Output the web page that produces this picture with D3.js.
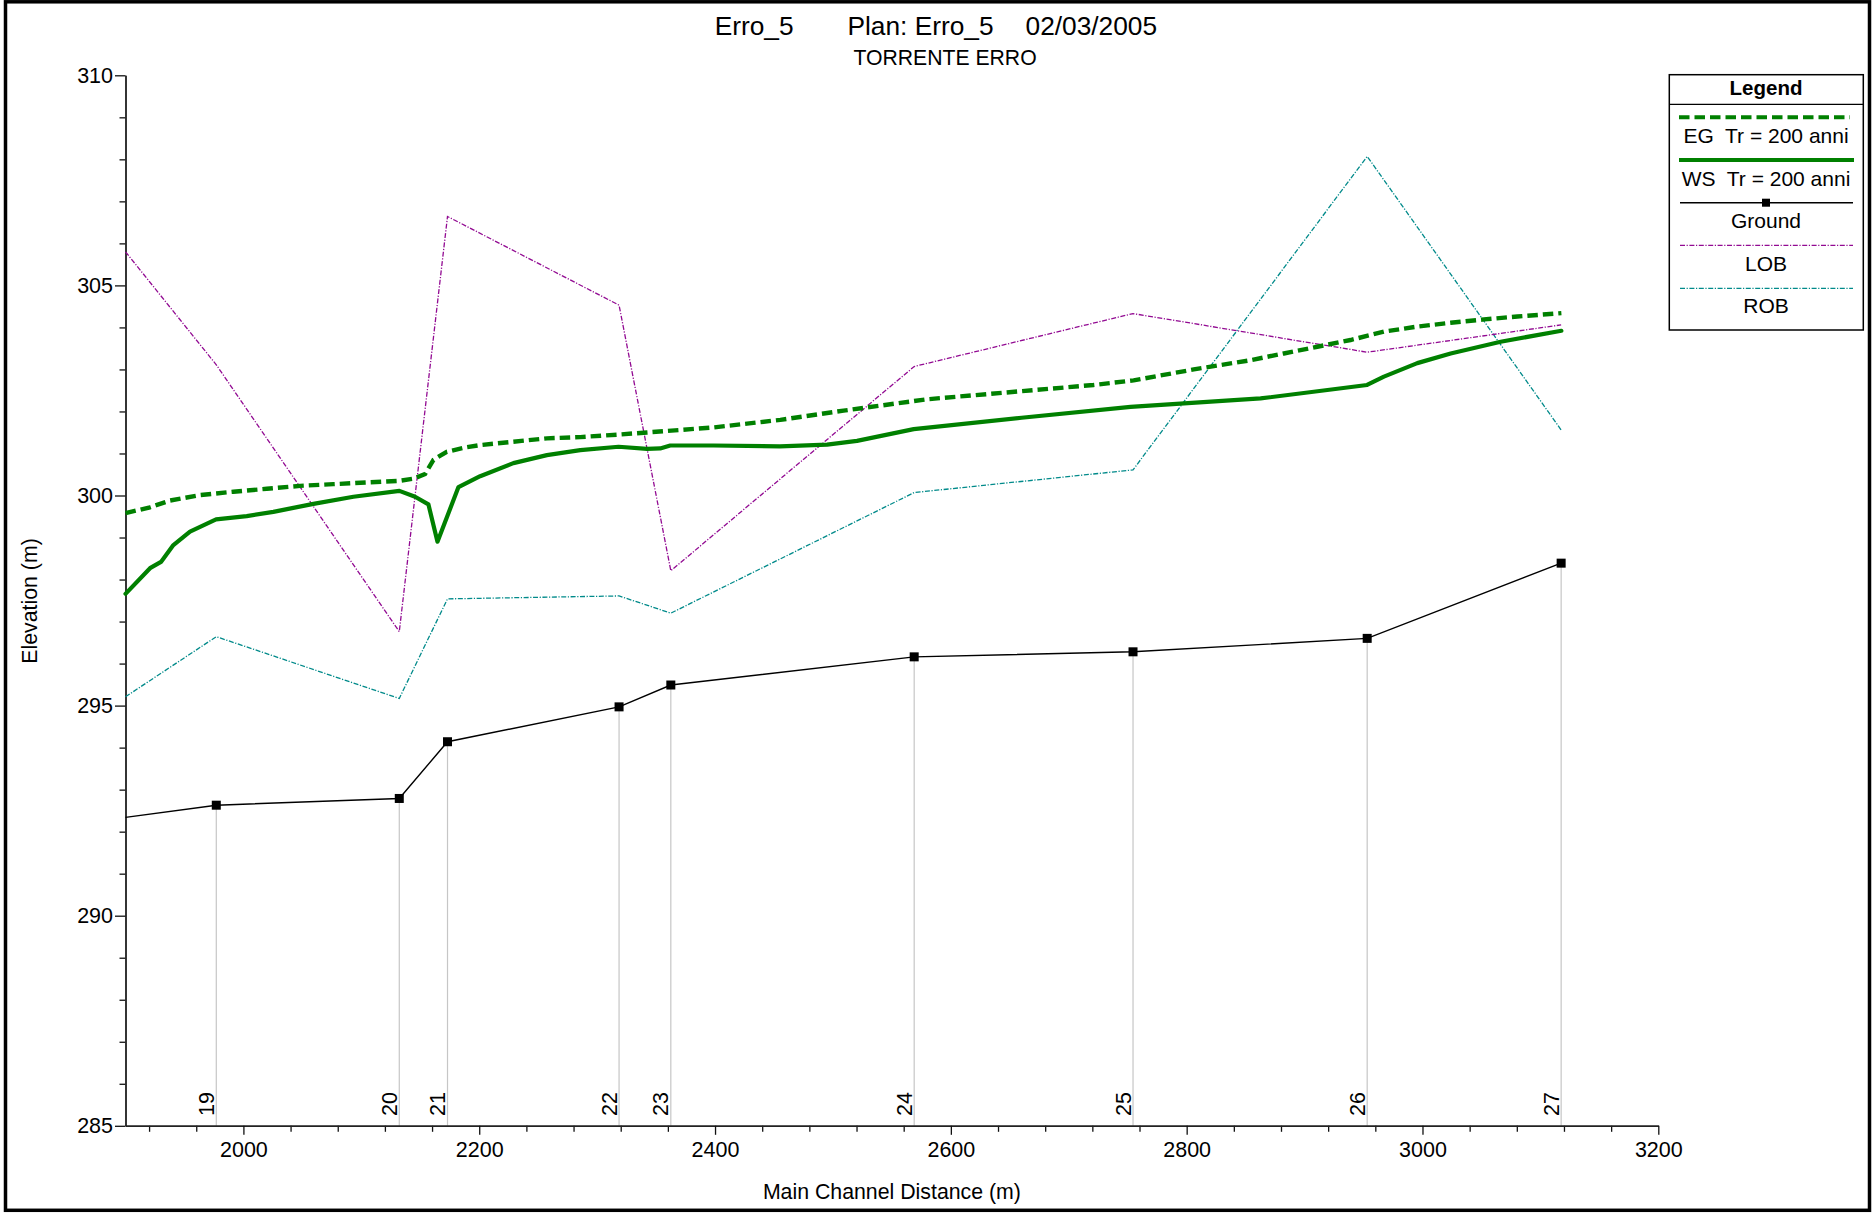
<!DOCTYPE html>
<html>
<head>
<meta charset="utf-8">
<script src="https://cdn.jsdelivr.net/npm/d3@7"></script>
<style>
  html, body { margin: 0; padding: 0; background: #fff; }
  svg { display: block; font-family: "Liberation Sans", Arial, sans-serif; }
  text { white-space: pre; }
</style>
</head>
<body>
<svg id="chart" width="1874" height="1213"></svg>
<script>
// River stations of the surveyed cross sections (m) and their labels
const sectionNames = ["19", "20", "21", "22", "23", "24", "25", "26", "27"];
const sectionStations = [1977.0, 2132.2, 2173.1, 2318.6, 2362.5, 2568.9, 2754.5, 2953.1, 3117.6];

// Channel bed, left and right overbank elevations (m); first value is at the left plot edge
const bankStations = [1900, 1977.0, 2132.2, 2173.1, 2318.6, 2362.5, 2568.9, 2754.5, 2953.1, 3117.6];
const groundElev = [292.34, 292.63, 292.79, 294.14, 294.97, 295.49, 296.16, 296.28, 296.60, 298.39];
const lobElev = [305.80, 303.11, 296.76, 306.64, 304.53, 298.21, 303.07, 304.33, 303.41, 304.06];
const robElev = [295.21, 296.64, 295.17, 297.54, 297.61, 297.20, 300.07, 300.61, 308.07, 301.56];

// Water surface profile, Tr = 200 anni (including interpolated sections)
const wsStations = [1900, 1920.8, 1930.1, 1940.6, 1954.7, 1976.8, 2002.8, 2025.4, 2059.4, 2093.3,
  2132.3, 2145.6, 2156.9, 2164.6, 2182.4, 2200.8, 2229.0, 2257.4, 2285.7, 2318.2,
  2342.3, 2353.5, 2362.0, 2398.8, 2455.0, 2495.0, 2520.4, 2568.5, 2660.0, 2752.4,
  2862.7, 2953.0, 2967.3, 2995.6, 3023.9, 3066.3, 3117.8];
const wsElev = [297.66, 298.27, 298.42, 298.82, 299.14, 299.43, 299.51, 299.61, 299.80, 299.97,
  300.11, 299.97, 299.79, 298.90, 300.20, 300.46, 300.77, 300.96, 301.08, 301.16,
  301.11, 301.12, 301.19, 301.19, 301.17, 301.21, 301.30, 301.58, 301.85, 302.11,
  302.31, 302.63, 302.83, 303.15, 303.38, 303.66, 303.92];

// Energy grade line, Tr = 200 anni
const egStations = [1900, 1920.8, 1937.8, 1963.2, 1991.5, 2019.8, 2048.1, 2076.3, 2104.7, 2132.3,
  2144.2, 2154.1, 2161.2, 2172.5, 2189.5, 2200.8, 2229.0, 2257.4, 2285.7, 2318.0,
  2342.3, 2370.5, 2398.8, 2427.1, 2455.4, 2509.0, 2579.8, 2721.0, 2755.0, 2806.0,
  2854.2, 2882.4, 2910.8, 2939.0, 2967.3, 2995.6, 3023.9, 3052.1, 3080.5, 3117.8];
const egElev = [299.58, 299.72, 299.88, 300.01, 300.09, 300.16, 300.23, 300.27, 300.31, 300.35,
  300.40, 300.51, 300.85, 301.04, 301.15, 301.20, 301.28, 301.36, 301.39, 301.45,
  301.50, 301.56, 301.62, 301.71, 301.80, 302.02, 302.29, 302.63, 302.74, 303.00,
  303.22, 303.38, 303.54, 303.70, 303.90, 304.02, 304.11, 304.19, 304.26, 304.34];

// Axis ticks
const xMajorTicks = [2000, 2200, 2400, 2600, 2800, 3000, 3200];
const yMajorTicks = [285, 290, 295, 300, 305, 310];

const titleParts = ["Erro_5", "Plan: Erro_5", "02/03/2005"];
const subtitle = "TORRENTE ERRO";
const legendItems = ["EG  Tr = 200 anni", "WS  Tr = 200 anni", "Ground", "LOB", "ROB"];

const GREEN = "#008000";
const LOB_COLOR = "#920a92";
const ROB_COLOR = "#008a8a";
const FONT = "Liberation Sans, Arial, sans-serif";

const svg = d3.select("#chart");

const x = d3.scaleLinear().domain([1900, 3200]).range([125.5, 1658.3]);
const y = d3.scaleLinear().domain([285, 310]).range([1125.8, 75.3]);

// Outer frame
svg.append("rect")
  .attr("x", 5.5).attr("y", 1.8).attr("width", 1864).attr("height", 1208.5)
  .attr("fill", "none").attr("stroke", "#000").attr("stroke-width", 3.5);

// Titles
const titleX = [714.7, 847.4, 1025.5];
svg.selectAll("text.title").data(titleParts).join("text")
  .attr("class", "title")
  .attr("x", (d, i) => titleX[i]).attr("y", 34.5)
  .attr("font-size", 26.3).attr("fill", "#000")
  .text(d => d);
svg.append("text")
  .attr("x", 945).attr("y", 64.5).attr("text-anchor", "middle")
  .attr("font-size", 21.2).attr("fill", "#000")
  .text(subtitle);

// Section guide lines from the bed down to the axis
const sectionData = sectionStations.map((s, i) => ({ s, name: sectionNames[i], g: groundElev[i + 1] }));
svg.append("g").selectAll("line").data(sectionData).join("line")
  .attr("x1", d => x(d.s)).attr("x2", d => x(d.s))
  .attr("y1", d => y(d.g)).attr("y2", y(285))
  .attr("stroke", "#c6c6c6").attr("stroke-width", 1.2);

svg.append("g").selectAll("text").data(sectionData).join("text")
  .attr("transform", d => `translate(${x(d.s) - 2.5},1116) rotate(-90)`)
  .attr("font-size", 21.5).attr("fill", "#000")
  .text(d => d.name);

// Axes
const yAxisMinor = d3.axisLeft(y).tickValues(d3.range(286, 310).filter(v => v % 5 !== 0))
  .tickSize(6).tickSizeOuter(0).tickFormat("");
const yAxis = d3.axisLeft(y).tickValues(yMajorTicks).tickSize(10.5).tickSizeOuter(0)
  .tickPadding(2).tickFormat(d3.format("d"));
const xAxisMinor = d3.axisBottom(x).tickValues(d3.range(1920, 3200, 40).filter(v => v % 200 !== 0))
  .tickSize(6).tickSizeOuter(0).tickFormat("");
const xAxis = d3.axisBottom(x).tickValues(xMajorTicks).tickSize(9).tickSizeOuter(0)
  .tickPadding(7).tickFormat(d3.format("d"));

function styleAxis(g) {
  g.attr("font-family", FONT).attr("font-size", 21.5);
  g.select(".domain").attr("stroke", "#222").attr("stroke-width", 1.4);
  g.selectAll(".tick line").attr("stroke", "#111").attr("stroke-width", 1.3);
  g.selectAll(".tick text").attr("fill", "#000");
}
svg.append("g").attr("transform", `translate(${x(1900)},0)`).call(yAxisMinor).call(styleAxis);
svg.append("g").attr("transform", `translate(${x(1900)},0)`).call(yAxis).call(styleAxis);
svg.append("g").attr("transform", `translate(0,${y(285)})`).call(xAxisMinor).call(styleAxis);
svg.append("g").attr("transform", `translate(0,${y(285)})`).call(xAxis).call(styleAxis);

svg.append("text")
  .attr("x", (x(1900) + x(3200)) / 2).attr("y", 1199)
  .attr("text-anchor", "middle").attr("font-size", 21.3).attr("fill", "#000")
  .text("Main Channel Distance (m)");
svg.append("text")
  .attr("transform", `translate(37,601) rotate(-90)`)
  .attr("text-anchor", "middle").attr("font-size", 21.3).attr("fill", "#000")
  .text("Elevation (m)");

// Profile lines
const line = d3.line().x(d => x(d[0])).y(d => y(d[1]));
const zip = (a, b) => a.map((v, i) => [v, b[i]]);

const plot = svg.append("g");
plot.append("path").datum(zip(bankStations, robElev)).attr("d", line)
  .attr("fill", "none").attr("stroke", ROB_COLOR).attr("stroke-width", 1.3)
  .attr("stroke-dasharray", "5,1.6,1.2,1.6");
plot.append("path").datum(zip(bankStations, lobElev)).attr("d", line)
  .attr("fill", "none").attr("stroke", LOB_COLOR).attr("stroke-width", 1.3)
  .attr("stroke-dasharray", "5,1.6,1.2,1.6");
plot.append("path").datum(zip(bankStations, groundElev)).attr("d", line)
  .attr("fill", "none").attr("stroke", "#000").attr("stroke-width", 1.4);
plot.append("g").selectAll("rect").data(sectionData).join("rect")
  .attr("x", d => x(d.s) - 4.5).attr("y", d => y(d.g) - 4.5)
  .attr("width", 9).attr("height", 9).attr("fill", "#000");
plot.append("path").datum(zip(wsStations, wsElev)).attr("d", line)
  .attr("fill", "none").attr("stroke", GREEN).attr("stroke-width", 4.2)
  .attr("stroke-linejoin", "round").attr("stroke-linecap", "round");
plot.append("path").datum(zip(egStations, egElev)).attr("d", line)
  .attr("fill", "none").attr("stroke", GREEN).attr("stroke-width", 4.4)
  .attr("stroke-dasharray", "10.5,5");

// Legend
const lg = svg.append("g");
const lx0 = 1669.3, lx1 = 1863.3;
lg.append("rect").attr("x", lx0).attr("y", 74.7).attr("width", lx1 - lx0).attr("height", 255.3)
  .attr("fill", "#fff").attr("stroke", "#000").attr("stroke-width", 1.5);
lg.append("line").attr("x1", lx0).attr("x2", lx1).attr("y1", 104.3).attr("y2", 104.3)
  .attr("stroke", "#000").attr("stroke-width", 1.3);
lg.append("text").attr("x", 1766).attr("y", 95).attr("text-anchor", "middle")
  .attr("font-size", 20.5).attr("font-weight", "bold").text("Legend");

const legendLineY = [117.3, 160, 202.7, 245.3, 288.3];
const legendTextY = [143.3, 186, 227.7, 270.7, 313.3];
const legendStyles = [
  { stroke: GREEN, w: 4, dash: "10.5,5", x1: 1679, x2: 1850 },
  { stroke: GREEN, w: 4, dash: null, x1: 1679, x2: 1854 },
  { stroke: "#000", w: 1.4, dash: null, x1: 1680, x2: 1853 },
  { stroke: LOB_COLOR, w: 1.3, dash: "5,1.6,1.2,1.6", x1: 1680, x2: 1853 },
  { stroke: ROB_COLOR, w: 1.3, dash: "5,1.6,1.2,1.6", x1: 1680, x2: 1853 }
];
legendItems.forEach((label, i) => {
  const st = legendStyles[i];
  lg.append("line").attr("x1", st.x1).attr("x2", st.x2)
    .attr("y1", legendLineY[i]).attr("y2", legendLineY[i])
    .attr("stroke", st.stroke).attr("stroke-width", st.w)
    .attr("stroke-dasharray", st.dash);
  if (i === 2) {
    lg.append("rect").attr("x", 1766 - 4).attr("y", legendLineY[i] - 4)
      .attr("width", 8).attr("height", 8).attr("fill", "#000");
  }
  lg.append("text").attr("x", 1766).attr("y", legendTextY[i]).attr("text-anchor", "middle")
    .attr("font-size", 21).attr("fill", "#000").text(label);
});
</script>
</body>
</html>
